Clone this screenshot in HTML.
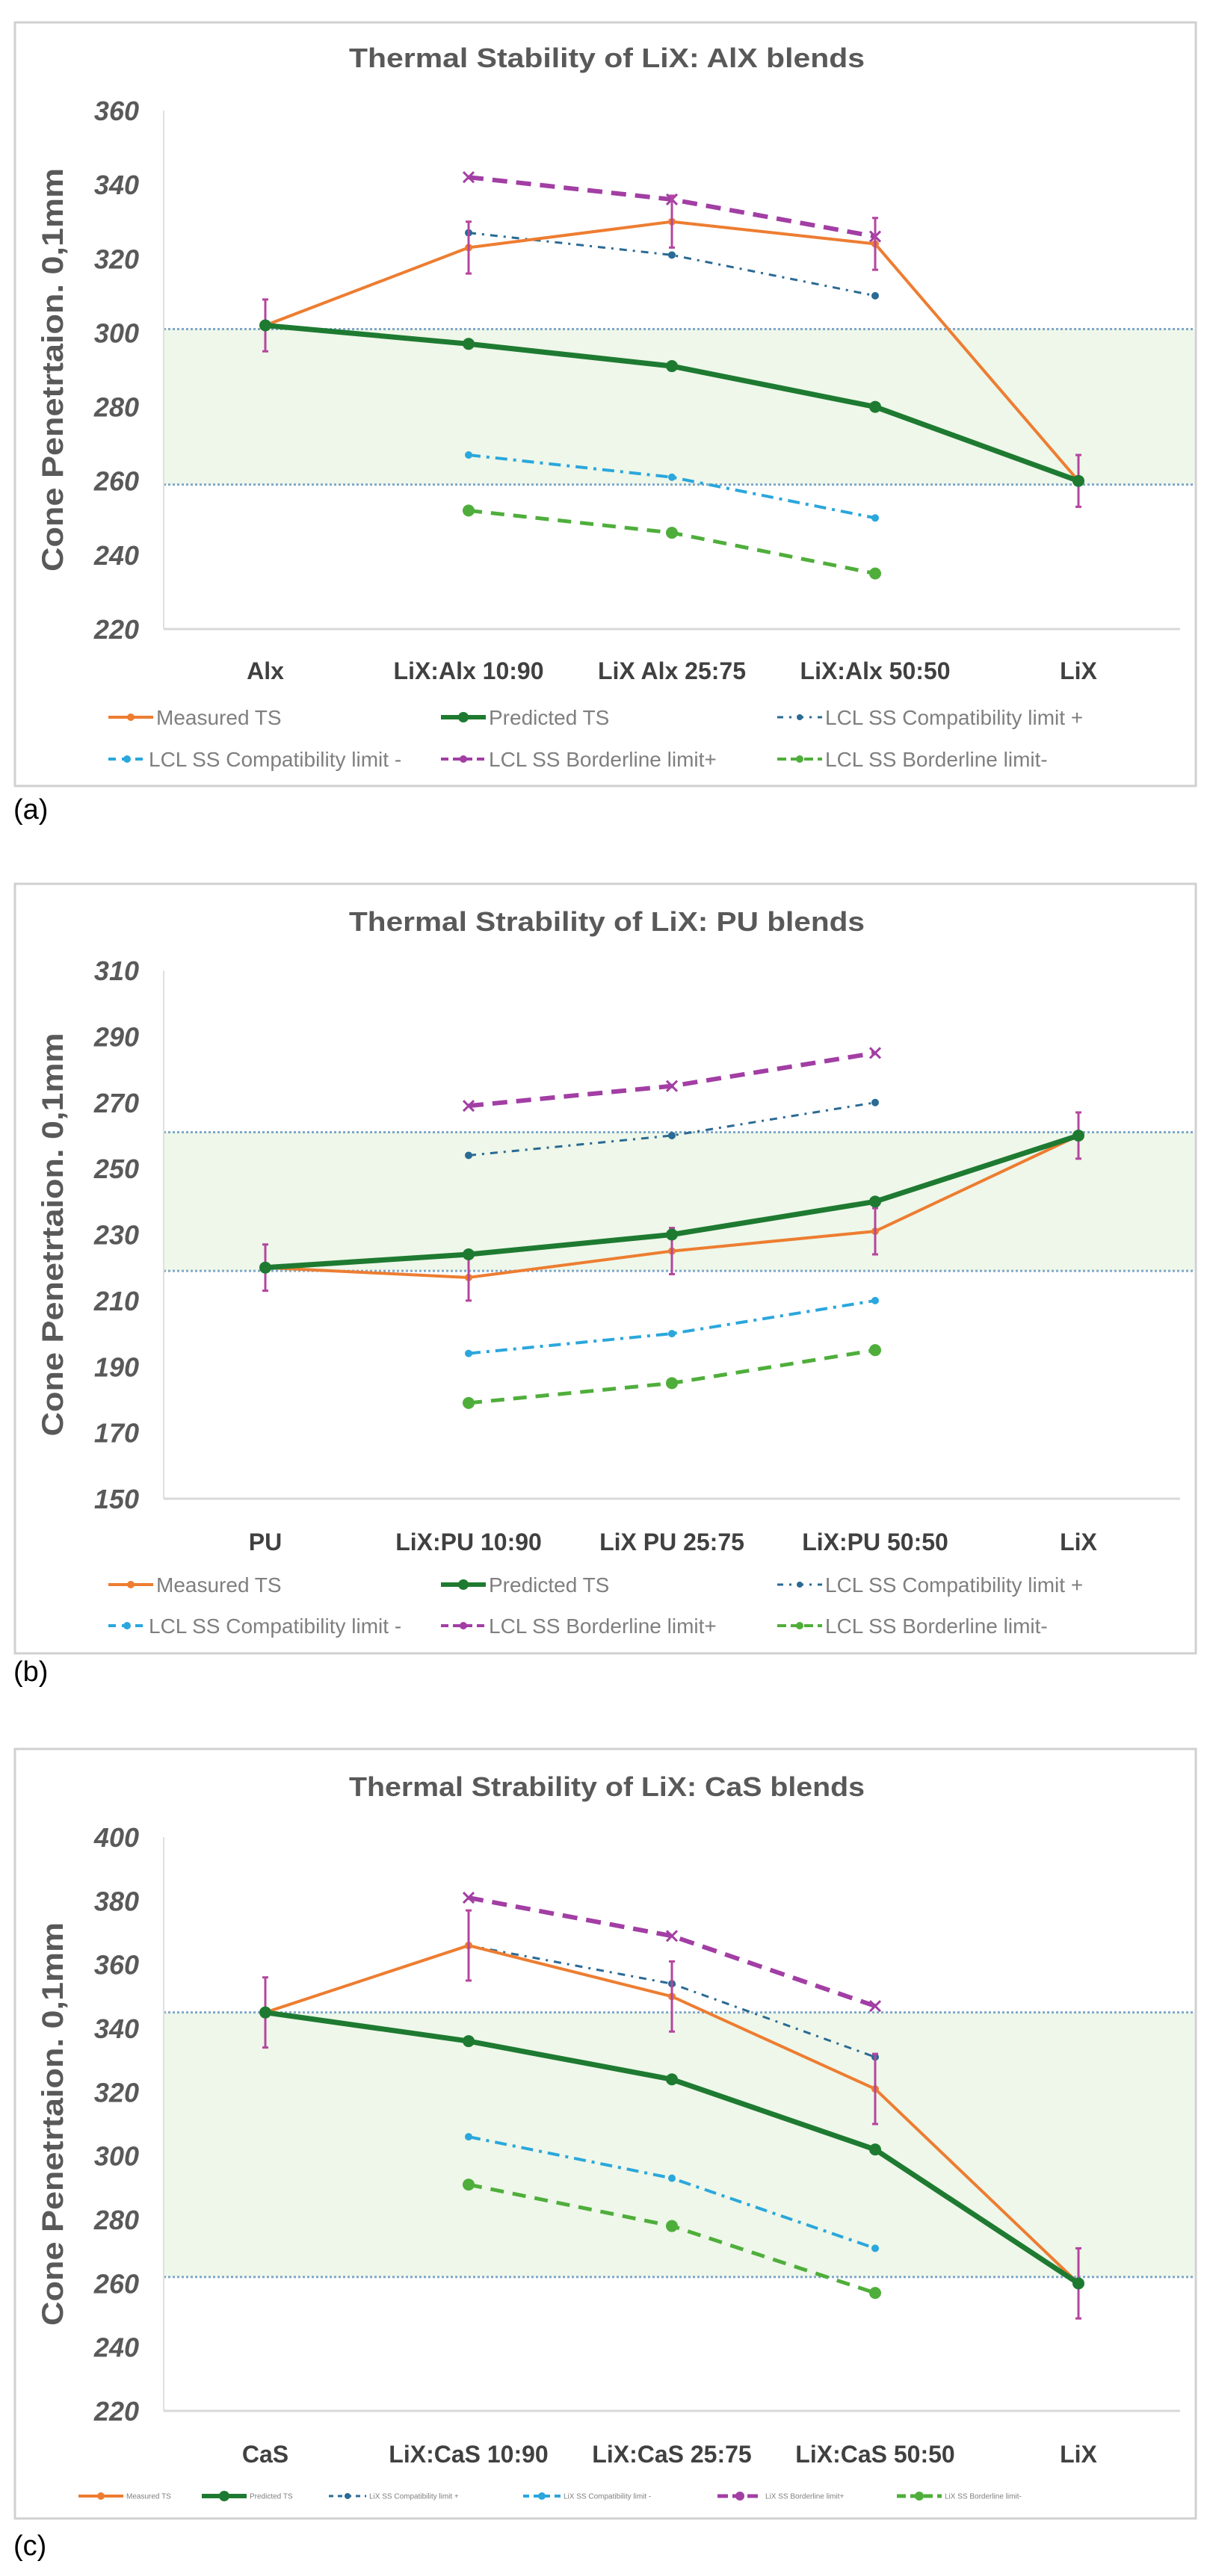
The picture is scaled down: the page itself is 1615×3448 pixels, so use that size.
<!DOCTYPE html>
<html><head><meta charset="utf-8">
<style>
html,body{margin:0;padding:0;background:#fff;}
svg{display:block;}
text{font-family:"Liberation Sans",sans-serif;}
</style></head>
<body>
<svg id="fig" width="1615" height="3448" viewBox="0 0 1615 3448" xmlns="http://www.w3.org/2000/svg"></svg>
<script>
// ---- Chart (a) data ----
const catsA = ["Alx","LiX:Alx 10:90","LiX Alx 25:75","LiX:Alx 50:50","LiX"];
const measuredA = [302,323,330,324,260];
const measuredErrA = [7,7,7,7,7];
const predictedA = [302,297,291,280,260];
const compatPlusA = [null,327,321,310,null];
const compatMinusA = [null,267,261,250,null];
const borderPlusA = [null,342,336,326,null];
const borderMinusA = [null,252,246,235,null];
const bandA = [259,301];
const ticksA = [220,240,260,280,300,320,340,360];

// ---- Chart (b) data ----
const catsB = ["PU","LiX:PU 10:90","LiX PU 25:75","LiX:PU 50:50","LiX"];
const measuredB = [220,217,225,231,260];
const measuredErrB = [7,7,7,7,7];
const predictedB = [220,224,230,240,260];
const compatPlusB = [null,254,260,270,null];
const compatMinusB = [null,194,200,210,null];
const borderPlusB = [null,269,275,285,null];
const borderMinusB = [null,179,185,195,null];
const bandB = [219,261];
const ticksB = [150,170,190,210,230,250,270,290,310];

// ---- Chart (c) data ----
const catsC = ["CaS","LiX:CaS 10:90","LiX:CaS 25:75","LiX:CaS 50:50","LiX"];
const measuredC = [345,366,350,321,260];
const measuredErrC = [11,11,11,11,11];
const predictedC = [345,336,324,302,260];
const compatPlusC = [null,366,354,331,null];
const compatMinusC = [null,306,293,271,null];
const borderPlusC = [null,381,369,347,null];
const borderMinusC = [null,291,278,257,null];
const bandC = [262,345];
const ticksC = [220,240,260,280,300,320,340,360,380,400];

const NS="http://www.w3.org/2000/svg";
const svg=document.getElementById('fig');
function mk(tag,attrs,parent,txt){
  const e=document.createElementNS(NS,tag);
  for(const k in attrs) e.setAttribute(k,attrs[k]);
  if(txt!==undefined) e.textContent=txt;
  (parent||svg).appendChild(e);
  return e;
}

function drawChart(cfg){
  const g=mk('g',{});
  
  
  const L=219, R=1579, top=cfg.yTop, bot=cfg.yBot;
  const tmin=cfg.ticks[0], tmax=cfg.ticks[cfg.ticks.length-1];
  const y=v=>bot-(v-tmin)/(tmax-tmin)*(bot-top);
  const x=i=>L+(R-L)/cfg.cats.length*(i+0.5);

  const fr=mk('rect',{x:20,y:cfg.frameTop,width:1580,height:cfg.frameBot-cfg.frameTop,fill:'#fff',stroke:'#d0d0d0','stroke-width':3},g);
  
  

  const t=mk('text',{x:812,y:cfg.titleY,'text-anchor':'middle','font-size':36,'font-weight':'bold',fill:'#595959',textLength:690,lengthAdjust:'spacingAndGlyphs'},g,cfg.title);
  
  

  // band
  const band=mk('rect',{x:L,y:y(cfg.band[1]),width:1598-L,height:y(cfg.band[0])-y(cfg.band[1]),fill:'#eef7e9'},g);
  
  
  cfg.band.forEach(v=>{
    const bl=mk('line',{x1:L,x2:1598,y1:y(v),y2:y(v),stroke:'#7fa7c9','stroke-width':3,'stroke-dasharray':'3 3'},g);
    
    
  });

  // axes
  const ax=mk('line',{x1:L,x2:L,y1:top,y2:bot,stroke:'#e0e0e0','stroke-width':2},g);
  
  
  const bx=mk('line',{x1:L,x2:R,y1:bot,y2:bot,stroke:'#d9d9d9','stroke-width':3},g);
  
  

  cfg.ticks.forEach(v=>{
    const tl=mk('text',{x:186,y:y(v)+13,'text-anchor':'end','font-size':36,'font-weight':'bold','font-style':'italic',fill:'#595959'},g,String(v));
    
    
  });
  const yt=mk('text',{x:0,y:0,'text-anchor':'middle','font-size':40,'font-weight':'bold',fill:'#595959',textLength:540,lengthAdjust:'spacingAndGlyphs',transform:`translate(84 ${(top+bot)/2}) rotate(-90)`},g,'Cone Penetrtaion. 0,1mm');
  
  

  cfg.cats.forEach((c,i)=>{
    const xl=mk('text',{x:x(i),y:cfg.xLabY,'text-anchor':'middle','font-size':32,'font-weight':'bold',fill:'#404040'},g,c);
    
    
  });

  function series(vals,name,color,w,dash,marker,ms){
    const pts=[];vals.forEach((v,i)=>{if(v!==null)pts.push([x(i),y(v)]);});
    const sg=mk('g',{},g);
    
    
    const pl=mk('polyline',{points:pts.map(p=>p.join(',')).join(' '),fill:'none',stroke:color,'stroke-width':w,'stroke-dasharray':dash||'none','stroke-linejoin':'round'},sg);
    
    
    pts.forEach(p=>{
      let m;
      if(marker==='x'){
        m=mk('path',{d:`M${p[0]-ms},${p[1]-ms}L${p[0]+ms},${p[1]+ms}M${p[0]-ms},${p[1]+ms}L${p[0]+ms},${p[1]-ms}`,stroke:color,'stroke-width':3},sg);
      }else{
        m=mk('circle',{cx:p[0],cy:p[1],r:ms,fill:color},sg);
      }
      
      
    });
  }
  series(cfg.cm,'compat-minus-series','#2aa7dc',4,'16 8 4 8','c',5);
  series(cfg.bm,'border-minus-series','#4fae3b',5,'18 12','c',8);
  series(cfg.cp,'compat-plus-series','#2a6a94',3,'10 8 3 8','c',5);
  series(cfg.bp,'border-plus-series','#a23ea4',6,'20 12','x',7);
  series(cfg.meas,'measured-series','#ed7d31',4,null,'c',5);
  cfg.meas.forEach((v,i)=>{
    const e=cfg.err[i], cx=x(i);
    const eb=mk('path',{d:`M${cx},${y(v+e)}L${cx},${y(v-e)}M${cx-4},${y(v+e)}L${cx+4},${y(v+e)}M${cx-4},${y(v-e)}L${cx+4},${y(v-e)}`,stroke:'#b5459e','stroke-width':3,fill:'none'},g);
    
    
  });
  series(cfg.pred,'predicted-series','#1e7a31',7,null,'c',8);

  cfg.legend.forEach(le=>{
    const lg=mk('g',{},g);
    
    
    mk('line',{x1:le.x,x2:le.x+le.len,y1:le.y,y2:le.y,stroke:le.c,'stroke-width':le.w,'stroke-dasharray':le.d||'none'},lg);
    mk('circle',{cx:le.x+le.len/2,cy:le.y,r:le.w+1,fill:le.c},lg);
    mk('text',{x:le.x+le.len+4,y:le.y+le.fs*0.35,'font-size':le.fs,fill:'#7f7f7f'},lg,le.t);
  });

  const pl=mk('text',{x:18,y:cfg.panelY,'font-size':38,'font-family':'Liberation Serif, serif',fill:'#000'},g,cfg.panel);
  
  
}

function legend2(r1,r2){
  return [
    {x:145,y:r1,len:60,c:'#ed7d31',w:4,t:'Measured TS',fs:28},
    {x:590,y:r1,len:60,c:'#1e7a31',w:6,t:'Predicted TS',fs:28},
    {x:1040,y:r1,len:60,c:'#2a6a94',w:3,d:'8 8 3 8',t:'LCL SS Compatibility limit +',fs:28},
    {x:145,y:r2,len:50,c:'#2aa7dc',w:4,d:'10 8',t:'LCL SS Compatibility limit -',fs:28},
    {x:590,y:r2,len:60,c:'#a23ea4',w:4,d:'10 6',t:'LCL SS Borderline limit+',fs:28},
    {x:1040,y:r2,len:60,c:'#4fae3b',w:4,d:'12 6',t:'LCL SS Borderline limit-',fs:28}
  ];
}

drawChart({id:'chart-a',cats:catsA,meas:measuredA,err:measuredErrA,pred:predictedA,cp:compatPlusA,cm:compatMinusA,bp:borderPlusA,bm:borderMinusA,band:bandA,ticks:ticksA,
  frameTop:30,frameBot:1052,titleY:90,yTop:148,yBot:842,xLabY:909,legend:legend2(960,1016),panel:'(a)',panelY:1096,title:'Thermal Stability of LiX: AlX blends'});
drawChart({id:'chart-b',cats:catsB,meas:measuredB,err:measuredErrB,pred:predictedB,cp:compatPlusB,cm:compatMinusB,bp:borderPlusB,bm:borderMinusB,band:bandB,ticks:ticksB,
  frameTop:1183,frameBot:2213,titleY:1246,yTop:1299,yBot:2006,xLabY:2075,legend:legend2(2121,2176),panel:'(b)',panelY:2250,title:'Thermal Strability of LiX: PU blends'});
const legC=[
  {x:105,y:3341,len:60,c:'#ed7d31',w:4,t:'Measured TS',fs:10},
  {x:270,y:3341,len:60,c:'#1e7a31',w:6,t:'Predicted TS',fs:10},
  {x:440,y:3341,len:50,c:'#2a6a94',w:3,d:'6 6',t:'LiX SS Compatibility limit +',fs:10},
  {x:700,y:3341,len:50,c:'#2aa7dc',w:4,d:'8 6',t:'LiX SS Compatibility limit -',fs:10},
  {x:960,y:3341,len:60,c:'#a23ea4',w:5,d:'14 6',t:'LiX SS Borderline limit+',fs:10},
  {x:1200,y:3341,len:60,c:'#4fae3b',w:5,d:'12 6',t:'LiX SS Borderline limit-',fs:10}
];
drawChart({id:'chart-c',cats:catsC,meas:measuredC,err:measuredErrC,pred:predictedC,cp:compatPlusC,cm:compatMinusC,bp:borderPlusC,bm:borderMinusC,band:bandC,ticks:ticksC,
  frameTop:2341,frameBot:3371,titleY:2404,yTop:2459,yBot:3227,xLabY:3296,legend:legC,panel:'(c)',panelY:3420,title:'Thermal Strability of LiX: CaS blends'});
</script>
</body></html>
